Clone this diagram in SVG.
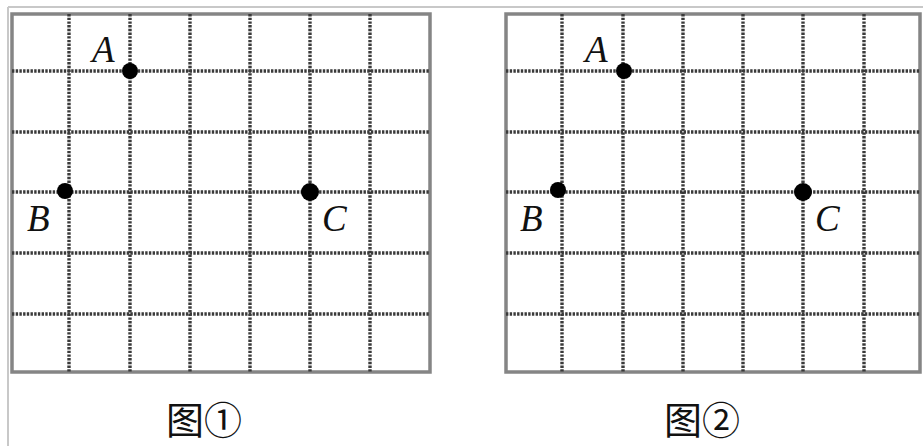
<svg xmlns="http://www.w3.org/2000/svg" width="923" height="446" viewBox="0 0 923 446">
<style>
.frame{stroke:#c8c8c8;stroke-width:2;fill:none}
.box{fill:#fff;stroke:#858585;stroke-width:3.5}
.grid{stroke:#3a3a3a;stroke-width:3.4;stroke-dasharray:2.4 1.3;fill:none}
.dot{fill:#000}
.lbl{font-family:"Liberation Serif",serif;font-style:italic;font-size:37px;fill:#111}
.cap{font-family:"Noto Sans CJK SC",sans-serif;font-size:38px;fill:#111}
</style>
<rect width="923" height="446" fill="#fff"/>
<g id="outer-frame">
<line class="frame" x1="8" y1="7" x2="923" y2="7"/>
<line class="frame" x1="8" y1="7" x2="8" y2="446"/>
</g>
<g id="panel1">
<rect class="box" x="12" y="14" width="418" height="358"/>
<g class="grid">
<path d="M69 14V372M130 14V372M190 14V372M250 14V372M310 14V372M370 14V372"/>
<path d="M12 71H430M12 132H430M12 192H430M12 253H430M12 314H430"/>
</g>
<g id="p1-A"><circle class="dot" cx="130" cy="71" r="8"/><text class="lbl" x="92" y="62">A</text></g>
<g id="p1-B"><circle class="dot" cx="65" cy="191" r="8"/><text class="lbl" x="27" y="231">B</text></g>
<g id="p1-C"><circle class="dot" cx="310" cy="192" r="9"/><text class="lbl" x="322" y="231">C</text></g>
<text id="cap1" class="cap" x="166" y="434">图①</text>
</g>
<g id="panel2">
<rect class="box" x="506" y="14" width="414" height="358"/>
<g class="grid">
<path d="M562 14V372M623 14V372M683 14V372M743 14V372M803 14V372M864 14V372"/>
<path d="M506 71H920M506 132H920M506 192H920M506 253H920M506 314H920"/>
</g>
<g id="p2-A"><circle class="dot" cx="624" cy="71" r="8"/><text class="lbl" x="585" y="62">A</text></g>
<g id="p2-B"><circle class="dot" cx="558" cy="190" r="8"/><text class="lbl" x="520" y="231">B</text></g>
<g id="p2-C"><circle class="dot" cx="803" cy="192" r="9"/><text class="lbl" x="815" y="231">C</text></g>
<text id="cap2" class="cap" x="664" y="434">图②</text>
</g>
<g id="connectors"/>
</svg>
